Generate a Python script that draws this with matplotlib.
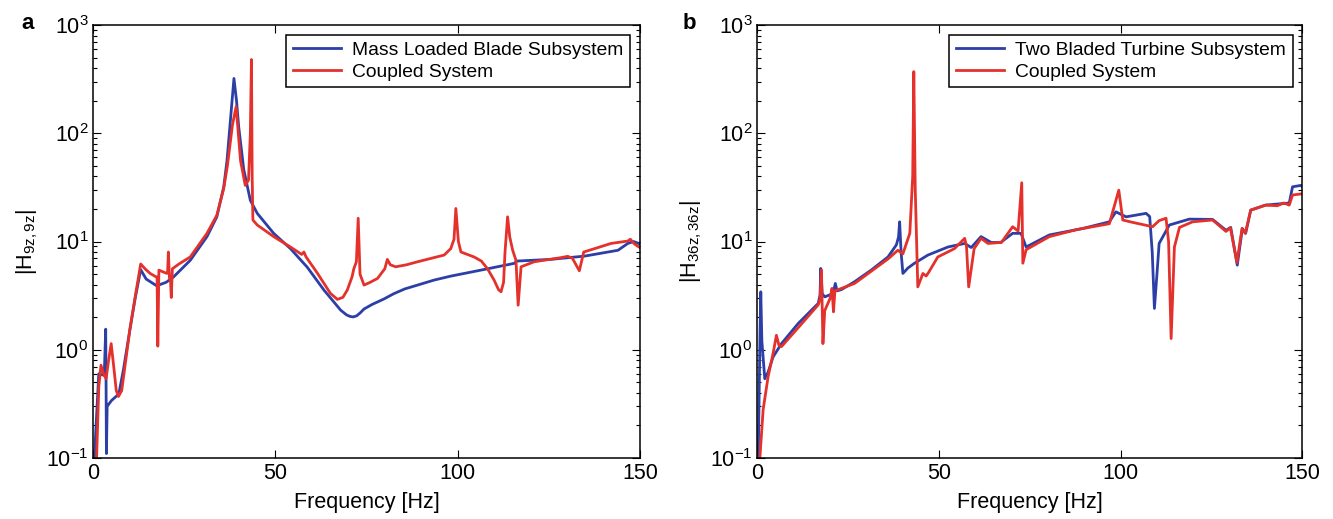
"""Two-panel FRF comparison: subsystem vs coupled system, log magnitude."""

import matplotlib
matplotlib.use("Agg")
import matplotlib.pyplot as plt
import matplotlib.ticker as mticker

OUT = "out.png"

C_BLUE = "#2b3fa6"
C_RED = "#e4312b"

# ── panel a: mass loaded blade subsystem vs coupled ──────────────────────────
freq_a_sub = [0.3, 1.5, 3.0, 3.4, 3.5, 3.6, 3.8, 5.0, 7.0, 8.25, 10.0, 11.5,
              13.0, 14.5, 17.4, 20.0, 22.0, 26.6, 31.2, 33.9, 35.8, 36.7,
              38.1, 38.6, 39.3, 39.9, 41.3, 43.1, 45.0, 49.5, 54.1, 58.7,
              63.3, 67.9, 69.5, 70.5, 71.3, 72.3, 73.3, 74.3, 76.5, 79.8,
              82.5, 85.5, 89.0, 93.5, 98.1, 107.3, 115.5, 116.3,
              125.6, 134.8, 144.0, 146.7, 148.3, 150.0]
mag_a_sub = [0.1, 0.6, 0.58, 1.55, 0.5, 0.11, 0.3, 0.34, 0.39, 0.65, 1.5, 3.0,
             5.5, 4.5, 3.9, 4.2, 4.7, 6.7, 11.1, 16.9, 32.0, 56.0,
             203.0, 321.0, 200.0, 115.0, 46.0, 24.0, 18.2, 11.9, 8.6, 5.8,
             3.56, 2.32, 2.1, 2.03, 2.01, 2.06, 2.2, 2.38, 2.62, 2.95,
             3.3, 3.65, 3.96, 4.4, 4.79, 5.52, 6.28, 6.6,
             6.84, 7.33, 8.3, 9.6, 10.0, 9.5]

freq_a_cpl = [0.9, 1.5, 2.1, 2.8, 3.5, 4.2, 4.9, 5.6, 6.3, 6.9, 7.8, 10.1,
              11.5, 13.0, 14.2, 15.6, 17.2, 17.5, 17.7, 18.0, 20.2, 20.4,
              20.6, 20.9, 21.2, 21.4, 21.7, 23.5, 26.6, 31.2, 33.9, 35.8,
              36.8, 38.2, 39.2, 40.4, 41.7, 42.6, 43.1, 43.4, 43.6, 43.8,
              45.0, 49.5, 54.1, 57.2, 57.8, 58.4, 61.5, 65.1, 67.0, 68.5,
              69.7, 71.0, 71.5, 72.2, 72.7, 73.2, 74.3, 76.0, 78.0, 80.0,
              80.7, 81.5, 83.0, 86.0, 89.0, 96.3, 98.1, 99.0, 99.5, 100.2,
              100.9, 104.5, 106.5, 108.2, 110.0, 111.2, 111.9, 112.6, 113.0,
              113.7, 114.3, 115.1, 116.0, 116.6, 117.4, 121.0, 128.4, 130.2,
              131.5, 133.4, 134.6, 137.6, 142.1, 146.7, 147.4, 148.5, 150.0]
mag_a_cpl = [0.1, 0.45, 0.72, 0.6, 0.54, 0.8, 1.14, 0.7, 0.42, 0.37, 0.42, 1.6,
             3.1, 6.2, 5.6, 5.07, 4.72, 4.7, 1.08, 5.44, 5.07, 5.3,
             8.0, 4.6, 4.3, 3.04, 5.6, 6.2, 7.2, 11.9, 17.5, 31.0,
             50.0, 120.0, 176.0, 56.0, 33.0, 37.0, 100.0, 480.0, 40.0, 15.8,
             14.2, 11.1, 8.9, 7.6, 8.0, 7.2, 5.1, 3.31, 2.92, 3.05,
             3.56, 4.7, 5.6, 6.5, 16.4, 5.0, 3.96, 4.2, 4.56, 5.6,
             6.84, 6.1, 5.84, 6.1, 6.5, 7.5, 8.6, 10.5, 20.2, 10.0,
             8.0, 7.2, 6.6, 5.6, 4.4, 3.6, 3.43, 4.2, 8.0,
             16.9, 11.0, 8.3, 6.7, 2.58, 5.84, 6.5, 7.1, 7.3,
             7.0, 5.36, 8.0, 8.6, 9.6, 10.1, 10.5, 9.5, 8.8]

# ── panel b: two bladed turbine subsystem vs coupled ─────────────────────────
freq_b_sub = [0.3, 0.8, 1.0, 1.3, 2.1, 3.0, 4.4, 6.7, 11.3, 16.8, 17.3, 17.5,
              17.9, 18.6, 20.9, 21.5, 22.0, 23.2, 26.8, 31.4, 36.0, 38.3,
              38.9, 39.2, 39.6, 40.1, 41.5, 43.3, 47.0, 52.5, 57.1, 58.9,
              61.6, 64.4, 67.0, 70.3, 72.6, 74.0, 80.4, 89.6, 96.9, 98.7,
              101.5, 107.0, 108.0, 108.7, 109.3, 110.0, 110.6, 113.4, 118.9,
              125.3, 129.0, 130.3, 132.1, 133.5, 134.4, 135.8, 139.9, 144.5,
              146.4, 147.3, 149.6, 150.0]
mag_b_sub = [0.1, 1.5, 3.43, 1.2, 0.54, 0.62, 0.86, 1.14, 1.75, 2.68, 3.2, 5.64,
             3.3, 3.08, 3.31, 4.1, 3.5, 3.6, 4.25, 5.45, 7.2, 9.3,
             11.0, 15.2, 8.0, 5.07, 5.7, 6.3, 7.5, 8.9, 9.6, 8.8,
             11.1, 9.8, 9.8, 11.9, 11.9, 8.9, 11.5, 13.2, 15.2, 18.8,
             16.9, 18.2, 17.0, 8.0, 2.41, 5.0, 9.6, 14.2, 16.1,
             16.0, 12.7, 13.5, 6.05, 13.2, 11.9, 19.5, 21.7, 22.4,
             22.7, 32.0, 33.0, 32.0]

freq_b_cpl = [0.75, 1.65, 3.0, 4.4, 5.3, 6.0, 6.7, 11.3, 16.8, 17.3, 17.7,
              18.1, 18.6, 20.1, 20.6, 21.0, 21.4, 26.8, 36.0, 38.7, 40.1,
              42.0, 42.8, 43.1, 43.5, 44.2, 45.6, 46.5, 47.2, 49.7, 54.3,
              57.1, 57.6, 58.2, 59.7, 61.6, 63.5, 67.2, 70.3, 71.8, 72.8,
              73.1, 74.0, 80.4, 88.0, 96.9, 99.5, 100.6, 103.4, 108.8, 110.6,
              112.5, 113.2, 113.9, 114.8, 116.2, 119.8, 125.3, 129.0, 130.2,
              132.0, 133.4, 134.3, 135.8, 139.9, 143.1, 144.9, 146.4, 147.3,
              149.6, 150.0]
mag_b_cpl = [0.1, 0.28, 0.56, 0.93, 1.36, 1.1, 1.07, 1.6, 2.6, 2.9, 5.45,
             1.14, 2.3, 3.0, 3.69, 2.24, 3.5, 4.1, 6.9, 8.3, 7.7,
             11.9, 40.0, 371.0, 30.0, 3.81, 5.07, 4.8, 5.2, 7.2, 8.6,
             10.7, 9.0, 3.81, 8.6, 10.7, 9.6, 9.8, 13.7, 12.5, 34.9,
             6.3, 8.4, 11.1, 12.9, 14.6, 29.8, 15.8, 15.0, 13.7, 15.6,
             16.4, 10.0, 1.27, 8.9, 13.5, 15.2, 15.8, 12.4, 13.4,
             6.4, 13.2, 11.9, 19.5, 21.7, 21.4, 22.7, 21.7, 26.9,
             27.5, 27.5]

FS = 15.5


def style_axis(ax):
    ax.set_yscale("log")
    ax.set_xlim(0, 150)
    ax.set_ylim(0.1, 1000)
    ax.set_xticks([0, 50, 100, 150])
    ax.yaxis.set_major_locator(mticker.LogLocator(base=10, numticks=10))
    ax.yaxis.set_minor_locator(mticker.LogLocator(base=10, subs=range(2, 10), numticks=10))
    ax.tick_params(which="both", direction="in", top=True, right=True,
                   labelsize=FS, width=0.8)
    ax.tick_params(which="major", length=6)
    ax.tick_params(which="minor", length=3)
    for s in ax.spines.values():
        s.set_linewidth(1.1)
    ax.set_xlabel("Frequency [Hz]", fontsize=FS, labelpad=6)


def panel(ax, f_sub, m_sub, f_cpl, m_cpl, sub_label, ylabel, tag, tag_x):
    ax.plot(f_sub, m_sub, color=C_BLUE, lw=2.0, label=sub_label)
    ax.plot(f_cpl, m_cpl, color=C_RED, lw=2.0, label="Coupled System")
    style_axis(ax)
    ax.set_ylabel(ylabel, fontsize=FS, labelpad=4)
    leg = ax.legend(loc="upper right", fontsize=13.9, fancybox=False,
                    framealpha=1, edgecolor="black", handlelength=2.5,
                    handletextpad=0.55, labelspacing=0.2, borderpad=0.36,
                    borderaxespad=0.5)
    leg.get_frame().set_linewidth(1.1)
    ax.figure.text(tag_x, 0.975, tag, fontsize=16, fontweight="bold",
                   ha="left", va="top")


def main():
    plt.rcParams["font.family"] = ["Liberation Sans", "DejaVu Sans"]
    plt.rcParams["mathtext.fontset"] = "custom"
    plt.rcParams["mathtext.rm"] = "Liberation Sans"
    plt.rcParams["mathtext.it"] = "Liberation Sans:italic"
    plt.rcParams["mathtext.bf"] = "Liberation Sans:bold"

    fig = plt.figure(figsize=(13.33, 5.19), dpi=100)
    ax1 = fig.add_axes([0.070, 0.1175, 0.410, 0.8343])
    ax2 = fig.add_axes([0.568, 0.1175, 0.409, 0.8343])

    panel(ax1, freq_a_sub, mag_a_sub, freq_a_cpl, mag_a_cpl,
          "Mass Loaded Blade Subsystem", r"|H$_{\mathrm{9z,9z}}$|", "a", 0.016)
    panel(ax2, freq_b_sub, mag_b_sub, freq_b_cpl, mag_b_cpl,
          "Two Bladed Turbine Subsystem", r"|H$_{\mathrm{36z,36z}}$|", "b", 0.512)

    fig.savefig(OUT, dpi=100)


if __name__ == "__main__":
    main()
